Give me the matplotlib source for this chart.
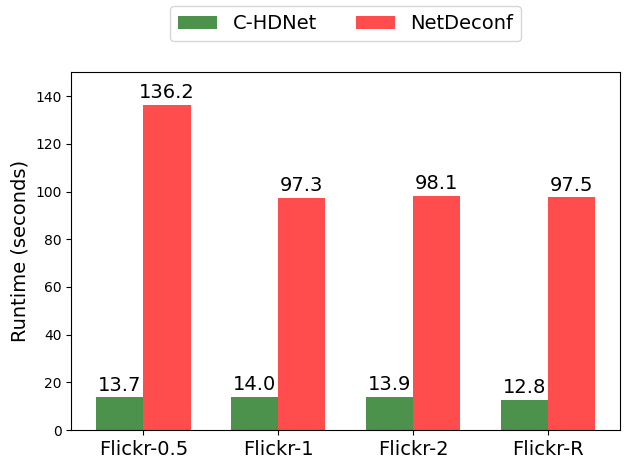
import matplotlib.pyplot as plt
import numpy as np

# datasets and runtimes (seconds)
datasets = ['Flickr-0.5', 'Flickr-1', 'Flickr-2', 'Flickr-R']
chdnet_times = [13.7, 14.0, 13.9, 12.8]
netdeconf_times = [136.2, 97.3, 98.1, 97.5]

x = np.arange(len(datasets))
width = 0.35

fig, ax = plt.subplots(figsize=(6.3, 4.69), dpi=100)

bars1 = ax.bar(x - width / 2, chdnet_times, width, label='C-HDNet', color='darkgreen', alpha=0.7)
bars2 = ax.bar(x + width / 2, netdeconf_times, width, label='NetDeconf', color='red', alpha=0.7)

# value labels above each bar
for bars in (bars1, bars2):
    for b in bars:
        h = b.get_height()
        ax.annotate(f'{h:.1f}', xy=(b.get_x() + b.get_width() / 2, h),
                    xytext=(0, 2), textcoords='offset points',
                    ha='center', va='bottom', fontsize=14)

ax.set_ylabel('Runtime (seconds)', fontsize=14)
ax.set_xticks(x)
ax.set_xticklabels(datasets, fontsize=14)
ax.set_ylim(0, 150)

ax.legend(loc='lower center', bbox_to_anchor=(0.5, 1.06), ncol=2, fontsize=14)

plt.subplots_adjust(left=0.113, right=0.984, bottom=0.083, top=0.846)
plt.savefig('out.png', dpi=100)
